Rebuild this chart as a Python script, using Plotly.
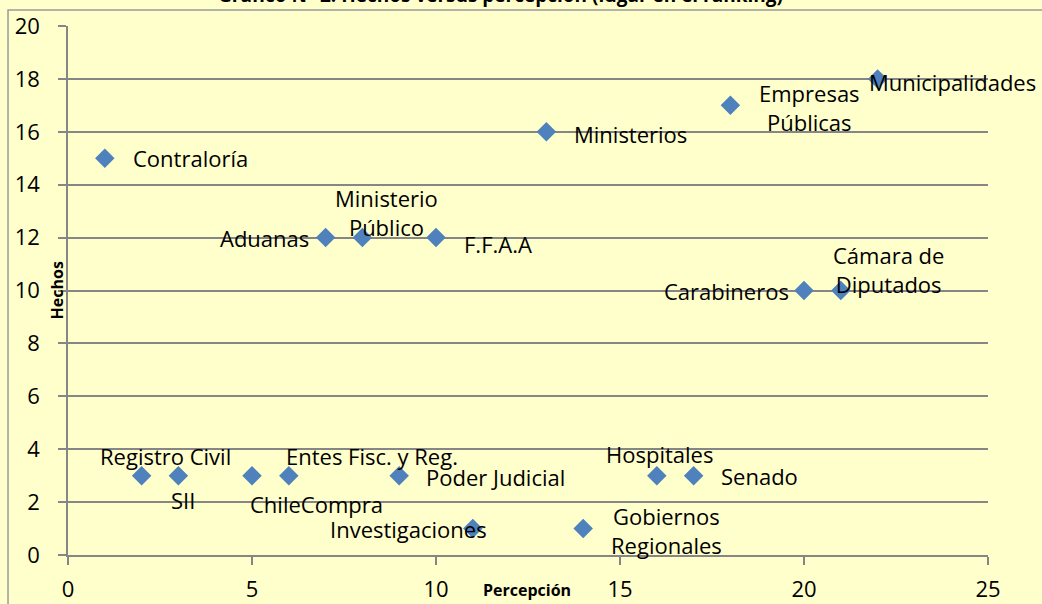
import plotly.graph_objects as go

# ---- data ----
entities = ["Contraloría", "Registro Civil", "SII", "ChileCompra", "Entes Fisc. y Reg.",
            "Aduanas", "Ministerio<br>Público", "Poder Judicial", "F.F.A.A", "Investigaciones",
            "Ministerios", "Gobiernos<br>Regionales", "Hospitales", "Senado",
            "Empresas<br>Públicas", "Carabineros", "Cámara de<br>Diputados", "Municipalidades"]
percepcion = [1, 2, 3, 5, 6, 7, 8, 9, 10, 11, 13, 14, 16, 17, 18, 20, 21, 22]
hechos = [15, 3, 3, 3, 3, 12, 12, 3, 12, 1, 16, 1, 3, 3, 17, 10, 10, 18]

x_ticks = [0, 5, 10, 15, 20, 25]
y_ticks = [0, 2, 4, 6, 8, 10, 12, 14, 16, 18, 20]

title_text = "Gráfico N° 2: Hechos versus percepción (lugar en el ranking)"
x_title = "Percepción"
y_title = "Hechos"

# label placement (anchor, xshift px, yshift px)
label_pos = [
    ("left", 26, 0), ("center", 24, 20), ("center", 5, -24), ("center", 64, -28),
    ("center", 83, 20), ("right", -15, 0), ("center", 24, 25), ("left", 25, -1),
    ("left", 26, -6), ("center", -64, 0), ("left", 26, -2), ("left", 26, -2),
    ("center", 3, 22), ("left", 25, 0), ("left", 27, -2), ("right", -13, 0),
    ("left", -10, 21), ("left", -11, -3),
]

FONT = "Open Sans"
GRID = "#868686"
BG = "#FFFFCC"

fig = go.Figure()
fig.add_trace(go.Scatter(
    x=percepcion, y=hechos, mode="markers",
    marker=dict(symbol="diamond", size=15, color="#4F81BD", line=dict(width=0)),
    hoverinfo="skip", showlegend=False,
))

annotations = []
for name, xv, yv, (anc, dx, dy) in zip(entities, percepcion, hechos, label_pos):
    annotations.append(dict(
        x=xv, y=yv, xref="x", yref="y", text=name, showarrow=False,
        xanchor=anc, yanchor="middle", align="center", xshift=dx, yshift=dy,
        font=dict(family=FONT, size=22, color="#000000"),
    ))

annotations.append(dict(
    x=0.47, y=1.058, xref="paper", yref="paper", text="<b>" + title_text + "</b>",
    showarrow=False, xanchor="center", yanchor="middle",
    font=dict(family=FONT, size=19, color="#000000"),
))
annotations.append(dict(
    x=0.499, y=-0.066, xref="paper", yref="paper", text="<b>" + x_title + "</b>",
    showarrow=False, xanchor="center", yanchor="middle",
    font=dict(family=FONT, size=16, color="#000000"),
))
annotations.append(dict(
    x=-0.012, y=0.5, xref="paper", yref="paper", text="<b>" + y_title + "</b>",
    showarrow=False, xanchor="center", yanchor="middle", textangle=-90,
    font=dict(family=FONT, size=16, color="#000000"),
))

fig.update_layout(
    width=1042, height=604,
    margin=dict(l=68, r=54, t=26, b=49, autoexpand=False),
    paper_bgcolor=BG, plot_bgcolor=BG,
    annotations=annotations,
    shapes=[dict(type="rect", xref="paper", yref="paper",
                 x0=-0.0652, x1=1.3, y0=-0.3, y1=1.0302,
                 line=dict(color="#9A9A9A", width=1.5), fillcolor="rgba(0,0,0,0)", layer="below")],
    xaxis=dict(range=[0, 25], tickvals=x_ticks, ticktext=[str(v) for v in x_ticks],
               showgrid=False, zeroline=False, showline=True, linecolor=GRID, linewidth=1.5,
               ticks="outside", ticklen=8, tickcolor=GRID, tickwidth=1.5, automargin=False,
               tickfont=dict(family=FONT, size=22, color="#000000"), ticklabelstandoff=6),
    yaxis=dict(range=[0, 20], tickvals=y_ticks, ticktext=[str(v) for v in y_ticks],
               showgrid=True, gridcolor=GRID, gridwidth=1.5, zeroline=False,
               showline=True, linecolor=GRID, linewidth=1.5, automargin=False,
               ticks="outside", ticklen=8, tickcolor=GRID, tickwidth=1.5,
               tickfont=dict(family=FONT, size=22, color="#000000"), ticklabelstandoff=14),
)

fig.write_html("out.html", config={"displayModeBar": False},
               post_script="document.body.style.margin='0';document.body.style.overflow='hidden';")
